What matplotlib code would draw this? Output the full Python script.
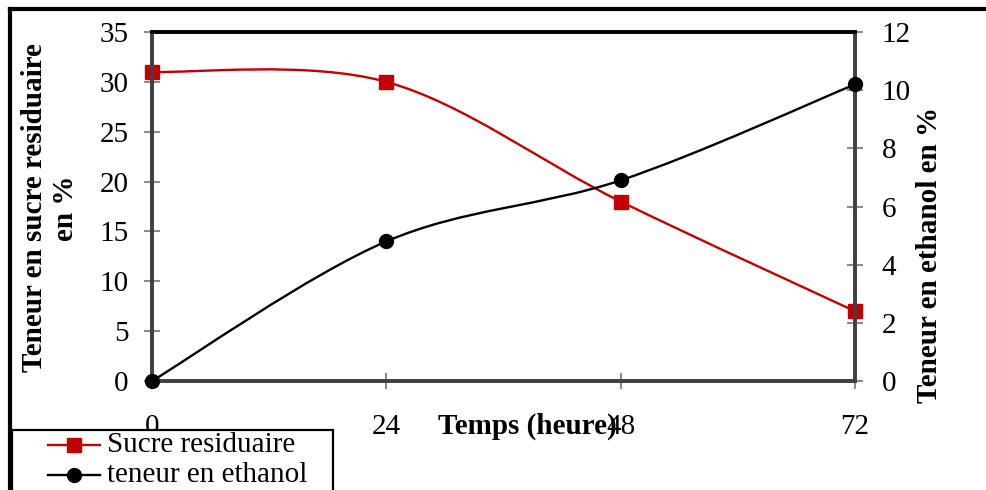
import matplotlib
matplotlib.use("Agg")
import matplotlib.pyplot as plt
import numpy as np
from matplotlib.path import Path
from matplotlib.patches import PathPatch, Rectangle
from matplotlib.lines import Line2D

plt.rcParams['font.family'] = ['Liberation Serif', 'DejaVu Serif']

# Data
temps = [0, 24, 48, 72]
sucre = [31, 30, 18, 7]
ethanol = [0, 4.8, 6.9, 10.2]
series_names = ["Sucre residuaire", "teneur en ethanol"]
x_ticks = [0, 24, 48, 72]

RED = "#C00000"
BLACK = "#000000"
W, H = 987, 490
FS = 21


def smooth_path(x, y):
    """Bezier path through the points, same smoothing as spreadsheet charts."""
    pts = np.column_stack([x, y]).astype(float)
    n = len(pts)
    verts = [pts[0]]
    codes = [Path.MOVETO]
    for i in range(n - 1):
        p0 = pts[i - 1] if i > 0 else pts[i]
        p1 = pts[i]
        p2 = pts[i + 1]
        p3 = pts[i + 2] if i + 2 < n else pts[i + 1]
        c1 = p1 + (p2 - p0) / 6.0
        c2 = p2 - (p3 - p1) / 6.0
        verts += [c1, c2, p2]
        codes += [Path.CURVE4] * 3
    return Path(verts, codes)


fig = plt.figure(figsize=(W / 100, H / 100), dpi=100)
ax = fig.add_axes([152 / W, 1 - 381 / H, (855 - 152) / W, (381 - 32) / H])
ax2 = ax.twinx()

# Residual sugar (left axis)
ax.add_patch(PathPatch(smooth_path(temps, sucre), fill=False, edgecolor=RED,
                       lw=1.7, zorder=3))
ax.plot(temps, sucre, ls='none', marker='s', ms=10.5, color=RED, zorder=4,
        clip_on=False)

# Ethanol (right axis)
ax2.add_patch(PathPatch(smooth_path(temps, ethanol), fill=False, edgecolor=BLACK,
                        lw=1.7, zorder=3))
ax2.plot(temps, ethanol, ls='none', marker='o', ms=10, color=BLACK, zorder=4,
         clip_on=False)

ax.set_xlim(0, 72)
ax.set_ylim(0, 35)
ax2.set_ylim(0, 12)
ax.set_xticks(x_ticks)
ax.set_xticklabels([str(t) for t in x_ticks])
ax.set_yticks(np.arange(0, 36, 5))
ax2.set_yticks(np.arange(0, 13, 2))

tick_kw = dict(direction='inout', length=12, width=1.5, color='#8c8c8c',
               labelsize=FS, labelcolor='black')
ax.tick_params(axis='y', pad=11, **tick_kw)
ax2.tick_params(axis='y', pad=13, **tick_kw)
ax.tick_params(axis='x', pad=18, **tick_kw)

for a in (ax, ax2):
    for side in ('left', 'right', 'bottom'):
        a.spines[side].set_color('#404040')
        a.spines[side].set_linewidth(2.6)
    a.spines['top'].set_color('black')
    a.spines['top'].set_linewidth(2.6)

lab_kw = dict(fontsize=FS, fontweight='bold')
ax.set_ylabel("Teneur en sucre residuaire\nen %", va='center', ha='center',
              multialignment='center', linespacing=1.2, **lab_kw)
ax.yaxis.set_label_coords(50 / W, 1 - 208 / H, transform=fig.transFigure)
ax2.set_ylabel("Teneur en ethanol en %", rotation=90, va='center', ha='center',
               **lab_kw)
ax2.yaxis.set_label_coords(930 / W, 1 - 255 / H, transform=fig.transFigure)
ax.set_xlabel("Temps (heure)", va='center', ha='center', **lab_kw)
ax.xaxis.set_label_coords(527 / W, 1 - 426 / H, transform=fig.transFigure)
ax.xaxis.label.set_zorder(5)

# Outer frame (top and left edges)
fig.add_artist(Line2D([10 / W, 1.0], [1 - 9 / H, 1 - 9 / H], color='black',
                      lw=3, transform=fig.transFigure))
fig.add_artist(Line2D([10 / W, 10 / W], [1 - 9 / H, 0.0], color='black',
                      lw=3, transform=fig.transFigure))

# Legend box
fig.add_artist(Rectangle((12 / W, -0.05), (333 - 12) / W, (1 - 430 / H) + 0.05,
                         transform=fig.transFigure, facecolor='white',
                         edgecolor='black', lw=1.6, zorder=10))
legend_rows = [(series_names[0], RED, 's', 10.5, 445),
               (series_names[1], BLACK, 'o', 10, 475)]
for name, col, mk, ms, ypx in legend_rows:
    yf = 1 - ypx / H
    fig.add_artist(Line2D([48 / W, 100 / W], [yf, yf], color=col, lw=1.7,
                          transform=fig.transFigure, zorder=11))
    fig.add_artist(Line2D([74 / W], [yf], color=col, marker=mk, ms=ms,
                          ls='none', transform=fig.transFigure, zorder=11))
    fig.text(107 / W, yf, name, fontsize=FS, va='center', ha='left', zorder=11)

fig.savefig("out.png", dpi=100)
